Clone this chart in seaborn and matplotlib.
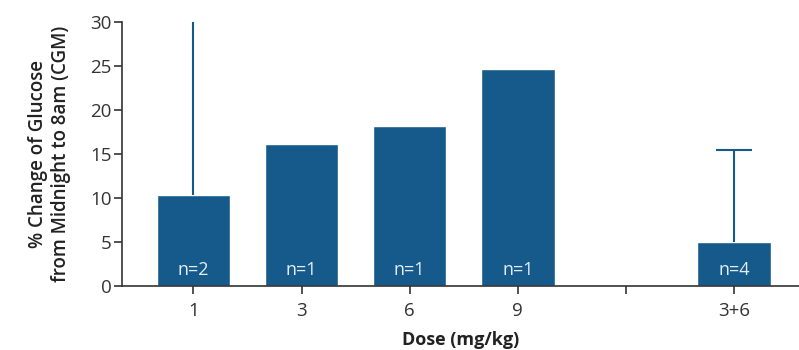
import numpy as np
import pandas as pd
import matplotlib
matplotlib.use("Agg")
import matplotlib.pyplot as plt
import seaborn as sns

# data
doses = ["1", "3", "6", "9", "3+6"]
pct_change = [10.3, 16.1, 18.2, 24.7, 5.0]
err_upper = [24.0, 0, 0, 0, 10.4]
n_labels = ["n=2", "n=1", "n=1", "n=1", "n=4"]
order = ["1", "3", "6", "9", "", "3+6"]   # blank slot between 9 and 3+6

bar_color = "#155a8a"

sns.set_style("ticks")
plt.rcParams["font.family"] = ["Open Sans", "DejaVu Sans"]

df = pd.DataFrame({"dose": doses, "pct": pct_change})

fig = plt.figure(figsize=(7.99, 3.5), dpi=100)
ax = fig.add_axes([0.1527, 0.183, 0.8473, 0.754])

sns.barplot(data=df, x="dose", y="pct", order=order, color=bar_color,
            saturation=1, width=0.68, errorbar=None, ax=ax)

# upper-only error bars (first one runs off the top of the axis)
cap_half = 0.165
for d, v, e in zip(doses, pct_change, err_upper):
    if e > 0:
        xi = order.index(d)
        top = v + e
        ax.vlines(xi, v, top, color=bar_color, lw=1.5)
        if top < 30:
            ax.hlines(top, xi - cap_half, xi + cap_half, color=bar_color, lw=1.5)

# n= labels inside bars
for d, lab in zip(doses, n_labels):
    xi = order.index(d)
    ax.text(xi, 1.8, lab, ha="center", va="center", color="#e4edf6", fontsize=13)

ax.set_ylim(0, 30)
ax.set_xlim(-0.66, 5.6)
ax.set_yticks(range(0, 31, 5))
ax.set_xlabel("Dose (mg/kg)", fontsize=13, fontweight="bold", color="#222222",
              labelpad=8)
ax.set_ylabel("% Change of Glucose\nfrom Midnight to 8am (CGM)", fontsize=13.5,
              fontweight="semibold", color="#222222", labelpad=14,
              linespacing=1.2)
ax.tick_params(axis="both", labelsize=13.5, colors="#333333", length=5.5, width=1.2)
ax.tick_params(axis="x", pad=6)
ax.tick_params(axis="y", pad=2)
for s in ["left", "bottom"]:
    ax.spines[s].set_color("#333333")
    ax.spines[s].set_linewidth(1.2)
sns.despine(ax=ax)

fig.savefig("out.png", dpi=100)
